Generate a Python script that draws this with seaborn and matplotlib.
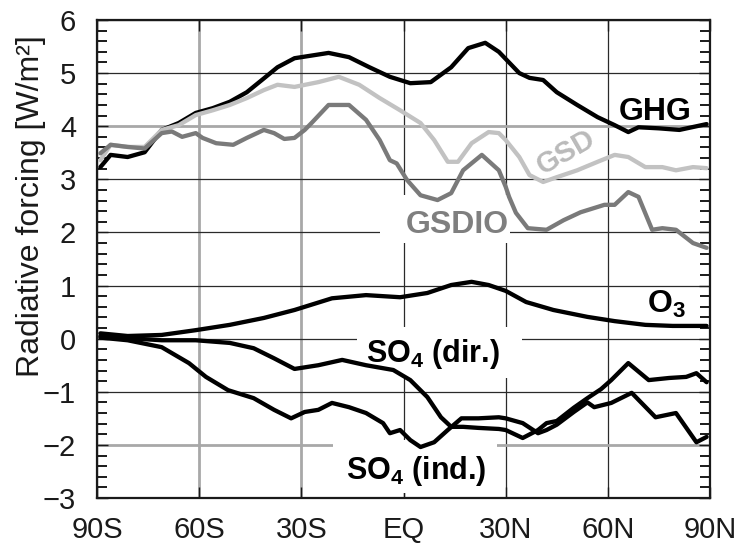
import numpy as np
import pandas as pd
import matplotlib
matplotlib.use("Agg")
import matplotlib.pyplot as plt
import seaborn as sns
from matplotlib.patches import Rectangle

# ---------------- data ----------------
ghg_lat = [-89, -86, -81, -76, -71, -66, -61, -56, -51, -46, -41, -37, -32, -27, -22, -16,
           -10, -4, 2, 8, 14, 19, 24, 28, 31, 34, 37, 41, 45, 51, 57, 62, 66, 69, 75, 81, 89]
ghg = [3.23, 3.46, 3.42, 3.51, 3.93, 4.06, 4.25, 4.34, 4.46, 4.64, 4.90, 5.11, 5.28, 5.33, 5.38, 5.30,
       5.11, 4.93, 4.81, 4.83, 5.11, 5.47, 5.57, 5.40, 5.20, 5.00, 4.91, 4.87, 4.64, 4.40, 4.17, 4.02,
       3.89, 3.98, 3.96, 3.93, 4.04]

gsd_lat = [-89, -86, -81, -76, -71, -66, -61, -56, -51, -46, -41, -37, -32, -25, -19, -13, -7, -1,
           5, 9, 13, 16, 20, 25, 28, 30, 34, 37, 41, 45, 51, 57, 62, 66, 71, 76, 80, 85, 89]
gsd = [3.36, 3.65, 3.61, 3.61, 3.93, 4.02, 4.21, 4.30, 4.40, 4.53, 4.68, 4.78, 4.74, 4.83, 4.93, 4.78,
       4.53, 4.30, 4.06, 3.74, 3.33, 3.33, 3.68, 3.89, 3.87, 3.74, 3.42, 3.08, 2.95, 3.04, 3.17, 3.33,
       3.46, 3.42, 3.23, 3.23, 3.17, 3.23, 3.21]

gsdio_lat = [-89, -86, -81, -76, -71, -68, -65, -61, -59, -55, -50, -46, -41, -38, -35, -32, -29, -27,
             -22, -16, -11, -7, -4, -2, 1, 5, 10, 14, 17.5, 23, 28, 30, 31, 33, 36.5, 42, 47, 52, 59,
             62, 66, 69, 73, 76, 80, 85, 89]
gsdio = [3.49, 3.65, 3.61, 3.58, 3.87, 3.90, 3.80, 3.87, 3.78, 3.68, 3.65, 3.78, 3.93, 3.87, 3.76, 3.78,
         3.93, 4.06, 4.40, 4.40, 4.12, 3.74, 3.36, 3.30, 2.99, 2.70, 2.61, 2.74, 3.17, 3.46, 3.17, 2.86,
         2.67, 2.37, 2.08, 2.05, 2.23, 2.38, 2.52, 2.52, 2.76, 2.67, 2.05, 2.08, 2.05, 1.80, 1.71]

o3_lat = [-89, -81, -71, -61, -51, -41, -32, -26, -21, -11, -1, 7, 14, 20, 25, 30, 36, 44, 54, 62,
          71, 79, 89]
o3 = [0.10, 0.05, 0.07, 0.16, 0.26, 0.39, 0.54, 0.66, 0.76, 0.82, 0.78, 0.86, 1.01, 1.07, 1.01, 0.90,
      0.69, 0.54, 0.41, 0.33, 0.26, 0.24, 0.24]

so4dir_lat = [-89, -81, -71, -61, -51, -44, -38, -32, -25, -18, -11, -3, 2, 7, 11, 14, 17.5, 22, 28,
              30, 35, 39.5, 42, 45, 50, 54, 58, 61, 66, 72, 78, 83, 86, 89]
so4dir = [0.05, 0.01, -0.03, -0.03, -0.08, -0.18, -0.37, -0.57, -0.50, -0.40, -0.50, -0.59, -0.78,
          -1.10, -1.48, -1.66, -1.66, -1.68, -1.70, -1.72, -1.87, -1.72, -1.59, -1.55, -1.30, -1.12,
          -0.95, -0.78, -0.46, -0.78, -0.74, -0.72, -0.65, -0.82]

so4ind_lat = [-89, -81, -71, -63, -58, -51.5, -44, -38, -33, -29, -25, -21, -16, -11, -6, -4, -1, 2,
              5, 9, 13, 17, 22, 28, 30, 35, 39.5, 42, 45, 50, 54, 56, 61, 67, 74, 80, 86, 89]
so4ind = [0.02, -0.03, -0.16, -0.46, -0.72, -0.97, -1.12, -1.34, -1.50, -1.38, -1.34, -1.21, -1.29,
          -1.40, -1.59, -1.78, -1.72, -1.91, -2.04, -1.95, -1.72, -1.50, -1.50, -1.48, -1.50, -1.59,
          -1.78, -1.72, -1.62, -1.38, -1.20, -1.29, -1.21, -1.02, -1.48, -1.40, -1.95, -1.85]

xtick_vals = [-90, -60, -30, 0, 30, 60, 90]
xtick_labels = ["90S", "60S", "30S", "EQ", "30N", "60N", "90N"]
ytick_vals = list(range(-3, 7))
ytick_minor = [round(-3 + 0.2 * i, 1) for i in range(46) if (i % 5) != 0]

series = {
    "GHG": (ghg_lat, ghg),
    "GSD": (gsd_lat, gsd),
    "GSDIO": (gsdio_lat, gsdio),
    "O3": (o3_lat, o3),
    "SO4dir": (so4dir_lat, so4dir),
    "SO4ind": (so4ind_lat, so4ind),
}
palette = {"GHG": "#000000", "GSD": "#c2c2c2", "GSDIO": "#7a7a7a",
           "O3": "#000000", "SO4dir": "#000000", "SO4ind": "#000000"}

df = pd.concat([pd.DataFrame({"lat": la, "rf": v, "series": k}) for k, (la, v) in series.items()],
               ignore_index=True)

# ---------------- style ----------------
sns.set_style("ticks")
plt.rcParams['font.family'] = ['Liberation Sans', 'DejaVu Sans']
plt.rcParams['mathtext.fontset'] = 'custom'
plt.rcParams['mathtext.rm'] = 'Liberation Sans'
plt.rcParams['mathtext.bf'] = 'Liberation Sans:bold'

fig = plt.figure(figsize=(7.5, 5.46), dpi=100)
ax = fig.add_axes([0.1293, 0.0879, 0.8174, 0.8755])
ax.set_axisbelow(True)

sns.lineplot(data=df, x="lat", y="rf", hue="series", palette=palette, estimator=None,
             linewidth=3.1, legend=False, ax=ax, zorder=3)

ax.set_xlim(-90, 90)
ax.set_ylim(-3, 6)
ax.set_xticks(xtick_vals)
ax.set_xticklabels(xtick_labels)
ax.set_yticks(ytick_vals)
ax.set_yticks(ytick_minor, minor=True)

ax.grid(True, which="major", color="#2a2a2a", linewidth=0.9)
for gl, t in zip(ax.get_xgridlines(), xtick_vals):
    if t in (-60, -30):
        gl.set_color("#a8a8a8")
        gl.set_linewidth(2.0)
for gl, t in zip(ax.get_ygridlines(), ytick_vals):
    if t in (4, -2):
        gl.set_color("#a8a8a8")
        gl.set_linewidth(2.0)

ax.tick_params(axis="both", which="major", direction="in", length=8, width=1.0,
               labelsize=21, colors="#1a1a1a", top=True, right=True)
ax.tick_params(axis="y", which="major", pad=15)
ax.tick_params(axis="x", which="major", pad=13)
ax.tick_params(axis="y", which="minor", direction="in", length=7, width=1.4,
               left=True, right=True, color="#1a1a1a")
for s in ax.spines.values():
    s.set_linewidth(1.6)
    s.set_color("#1a1a1a")

ax.set_xlabel("")
ax.set_ylabel("Radiative forcing [W/m²]", fontsize=23, color="#1a1a1a")
ax.yaxis.set_label_coords(-0.083, 0.61)

# white boxes behind labels (hide the grid, not the curves)
for (x0, y0, w, h) in [(-6.9, 1.80, 38.2, 0.90), (-13.7, -0.74, 48.5, 0.96), (-20.7, -2.91, 48.1, 1.0)]:
    ax.add_patch(Rectangle((x0, y0), w, h, facecolor="white", edgecolor="none", zorder=1.5))

kw = dict(fontweight="bold", zorder=4)
ax.text(73.8, 4.12, "GHG", ha="center", va="baseline", fontsize=23, color="black", **kw)
ax.text(47.7, 3.51, "GSD", ha="center", va="center", rotation=30, rotation_mode="anchor",
        fontsize=21, color="#bababa", **kw)
ax.text(15.7, 1.99, "GSDIO", ha="center", va="baseline", fontsize=23, color="#7f7f7f", **kw)
ax.text(77.1, 0.50, r"O$_\mathbf{3}$", ha="center", va="baseline", fontsize=23, color="black", **kw)
ax.text(8.5, -0.44, r"SO$_\mathbf{4}$ (dir.)", ha="center", va="baseline", fontsize=22,
        color="black", **kw)
ax.text(3.7, -2.64, r"SO$_\mathbf{4}$ (ind.)", ha="center", va="baseline", fontsize=22,
        color="black", **kw)

fig.savefig("out.png", dpi=100)
